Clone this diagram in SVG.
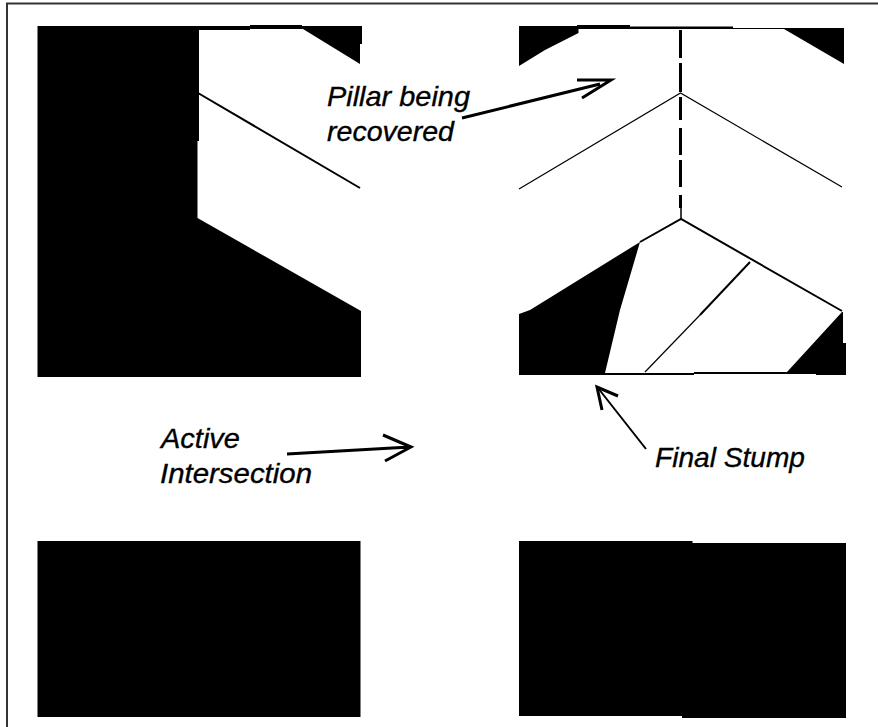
<svg xmlns="http://www.w3.org/2000/svg" width="878" height="727" viewBox="0 0 878 727">
<defs><style>
.b{fill:#000;stroke:none}
.t{font-family:"Liberation Sans",Arial,sans-serif;font-style:italic;font-size:28px;fill:#000;stroke:#000;stroke-width:.35px}
.l{fill:none;stroke:#000;stroke-linejoin:miter}
.a{fill:none;stroke:#000;stroke-width:3}
</style></defs>
<rect width="878" height="727" fill="#fff"/>
<rect id="frame" x="7" y="3.500" width="880" height="740" fill="none" stroke="#333" stroke-width="2"/>
<g id="left-panel">
<path class="b" d="M37.500 26H250V25H302V26H362V44H360V64L303 29H250V30H199V141H197.500V218L361 311V377H37.500Z"/>
<path class="l" stroke-width="2" d="M198 93L360 188"/>
</g>
<g id="right-panel">
<path class="b" d="M519 26H577V25H630V26.500H733V28H844V64L784 29H578.500V33L545 50L519 66Z"/>
<path class="b" d="M519 314L530 310L640 242L620 310L605 373H694V372H787L842 312H843V343H846V375H816V374H694V375H519Z"/>
<path class="l" stroke-width="1.200" d="M519 189L680.500 93L842 187"/>
<path class="l" stroke-width="3" d="M680.500 30V58M680.500 63V92M680.500 97V120M680.500 128V155M680.500 160V187M680.500 195V208"/>
<path class="l" stroke-width="1.500" d="M681 208V219"/>
<path class="l" stroke-width="2" d="M640 242L681 219L842 311"/>
<path class="l" stroke-width="2" d="M750 262L700 315"/>
<path class="l" stroke-width="1.200" d="M700 315L645 372"/>
</g>
<g id="lower-blocks">
<rect id="block-left" class="b" x="37.500" y="541" width="323" height="176"/>
<path id="block-right" class="b" d="M519 541H692.500V543H846V718H682V716H519Z"/>
</g>
<g id="connectors">
<path class="a" d="M462 118L600 84M577 80H611L582 98"/>
<path class="a" d="M287 454L410 447M383 435L411 447L385 461"/>
<path class="l" stroke-width="2" d="M646 449L598 388"/>
<path class="a" d="M618 396L597 387L602 410"/>
</g>
<g id="labels">
<text class="t" x="327" y="106" textLength="143" lengthAdjust="spacingAndGlyphs">Pillar being</text>
<text class="t" x="327" y="141" textLength="127" lengthAdjust="spacingAndGlyphs">recovered</text>
<text class="t" x="161" y="448" textLength="79" lengthAdjust="spacingAndGlyphs">Active</text>
<text class="t" x="160" y="483" textLength="152" lengthAdjust="spacingAndGlyphs">Intersection</text>
<text class="t" x="655" y="467" textLength="150" lengthAdjust="spacingAndGlyphs">Final Stump</text>
</g>
</svg>
